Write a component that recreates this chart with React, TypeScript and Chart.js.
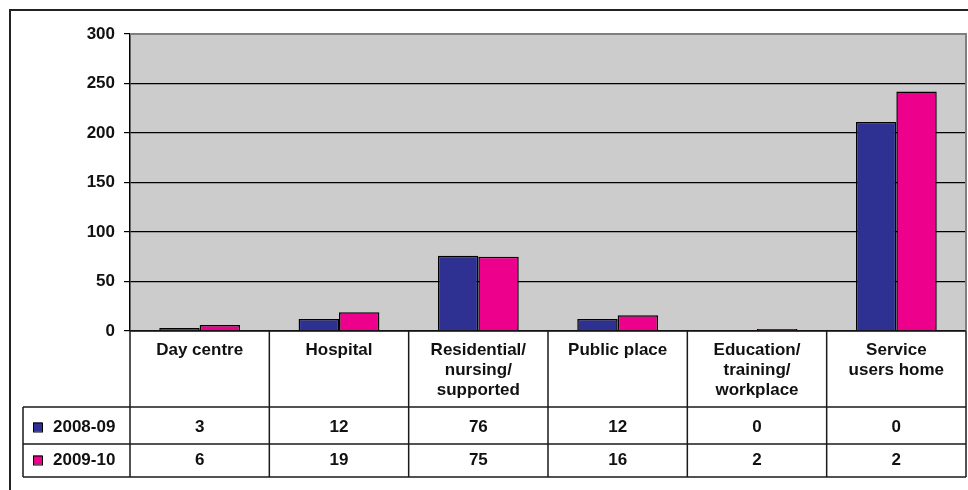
import React, { useEffect, useRef } from "react";
import { Chart, registerables } from "chart.js";

Chart.register(...registerables);

const categories: string[][] = [
  ["Day centre"],
  ["Hospital"],
  ["Residential/", "nursing/", "supported"],
  ["Public place"],
  ["Education/", "training/", "workplace"],
  ["Service", "users home"],
];
const seriesNames = ["2008-09", "2009-10"];
const values2008 = [3, 12, 76, 12, 0, 211];
const values2009 = [6, 19, 75, 16, 2, 242];
const tableRow2008 = ["3", "12", "76", "12", "0", "0"];
const tableRow2009 = ["6", "19", "75", "16", "2", "2"];
const yTicks = [0, 50, 100, 150, 200, 250, 300];

const COLORS = ["#2E3192", "#EC008C"];
const FONT = '"Liberation Sans", Arial, Helvetica, sans-serif';

const tablePlugin = {
  id: "tablePlugin",
  beforeDraw(chart: any) {
    const { ctx, chartArea } = chart;
    ctx.save();
    ctx.fillStyle = "#ffffff";
    ctx.fillRect(0, 0, chart.width, chart.height);
    ctx.fillStyle = "#CCCCCC";
    ctx.fillRect(chartArea.left, chartArea.top, chartArea.right - chartArea.left, chartArea.bottom - chartArea.top);
    ctx.restore();
  },
  afterDraw(chart: any) {
    const { ctx, chartArea } = chart;
    const left = chartArea.left;
    const right = chartArea.right;
    const top = chartArea.top;
    const bottom = chartArea.bottom;
    const n = categories.length;
    const catW = (right - left) / n;
    const row1Top = bottom + 76;
    const row2Top = bottom + 113;
    const tableBottom = bottom + 146;
    const tableLeft = 23;

    ctx.save();
    ctx.strokeStyle = "#7f7f7f";
    ctx.lineWidth = 2;
    ctx.beginPath();
    ctx.moveTo(left, top);
    ctx.lineTo(right, top);
    ctx.lineTo(right, bottom);
    ctx.stroke();

    ctx.strokeStyle = "#1a1a1a";
    ctx.lineWidth = 1.5;
    ctx.beginPath();
    ctx.moveTo(left, bottom);
    ctx.lineTo(right, bottom);
    for (let i = 0; i <= n; i++) {
      const x = left + i * catW;
      ctx.moveTo(x, bottom);
      ctx.lineTo(x, tableBottom);
    }
    [row1Top, row2Top, tableBottom].forEach((y) => {
      ctx.moveTo(tableLeft, y);
      ctx.lineTo(right, y);
    });
    ctx.moveTo(tableLeft, row1Top);
    ctx.lineTo(tableLeft, tableBottom);
    ctx.stroke();

    ctx.fillStyle = "#111";
    ctx.font = "bold 17px " + FONT;
    ctx.textAlign = "center";
    ctx.textBaseline = "middle";
    const xs = chart.scales.x;
    categories.forEach((lines, i) => {
      const cx = xs.getPixelForValue(i);
      lines.forEach((line, j) => {
        ctx.fillText(line, cx, bottom + 19 + j * 20);
      });
    });

    const rows = [tableRow2008, tableRow2009];
    const rowCenters = [(row1Top + row2Top) / 2 + 2, (row2Top + tableBottom) / 2];
    rows.forEach((row, r) => {
      const cy = rowCenters[r];
      row.forEach((t, i) => {
        ctx.textAlign = "center";
        ctx.fillText(t, xs.getPixelForValue(i), cy);
      });
      ctx.fillStyle = COLORS[r];
      ctx.fillRect(33, cy - 5, 9, 9);
      ctx.strokeStyle = "#000";
      ctx.lineWidth = 1;
      ctx.strokeRect(33.5, cy - 4.5, 9, 9);
      ctx.fillStyle = "#111";
      ctx.textAlign = "left";
      ctx.fillText(seriesNames[r], 53, cy);
    });

    ctx.strokeStyle = "#222";
    ctx.lineWidth = 2;
    ctx.beginPath();
    ctx.moveTo(10, chart.height);
    ctx.lineTo(10, 10);
    ctx.lineTo(chart.width, 10);
    ctx.stroke();
    ctx.restore();
  },
};

export default function App() {
  const ref = useRef<HTMLCanvasElement | null>(null);
  useEffect(() => {
    if (!ref.current) return;
    const chart = new Chart(ref.current, {
      type: "bar",
      data: {
        labels: categories as any,
        datasets: [
          {
            label: seriesNames[0],
            data: values2008,
            backgroundColor: COLORS[0],
            borderColor: "#000",
            borderWidth: 1.5,
            categoryPercentage: 0.58,
            barPercentage: 1.0,
          },
          {
            label: seriesNames[1],
            data: values2009,
            backgroundColor: COLORS[1],
            borderColor: "#000",
            borderWidth: 1.5,
            categoryPercentage: 0.58,
            barPercentage: 1.0,
          },
        ],
      },
      options: {
        responsive: false,
        animation: false,
        events: [],
        layout: { padding: { top: 34, right: 2, bottom: 159, left: 0 } },
        plugins: {
          legend: { display: false },
          tooltip: { enabled: false },
          title: { display: false },
        },
        scales: {
          x: { display: false },
          y: {
            min: 0,
            max: 300,
            afterFit(scale: any) {
              scale.width = 130;
            },
            afterBuildTicks(scale: any) {
              scale.ticks = yTicks.map((v) => ({ value: v }));
            },
            ticks: {
              color: "#111",
              font: { family: FONT, size: 17, weight: "bold" },
              padding: 9,
            },
            grid: {
              color: (c: any) => (c.tick && c.tick.value === 300 ? "#7f7f7f" : "#000"),
              tickColor: "#000",
              tickLength: 6,
              lineWidth: 1.2,
            },
            border: { display: true, color: "#000", width: 1.5 },
          },
        },
      },
      plugins: [tablePlugin],
    });
    return () => chart.destroy();
  }, []);
  return (
    <div style={{ position: "absolute", left: 0, top: 0, width: 968, height: 490 }}>
      <canvas ref={ref} width={968} height={490} style={{ display: "block" }} />
    </div>
  );
}
